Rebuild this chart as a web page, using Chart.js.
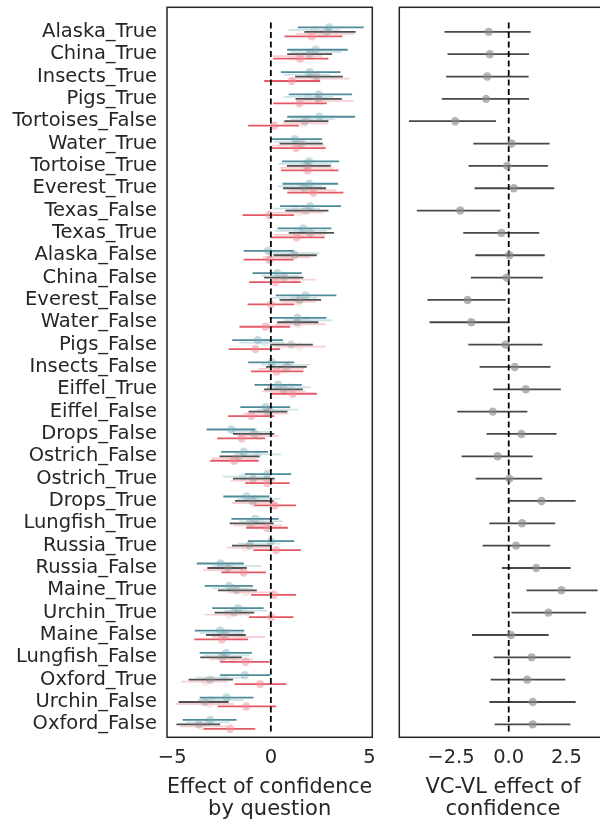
<!DOCTYPE html>
<html><head><meta charset="utf-8">
<script src="https://cdn.jsdelivr.net/npm/chart.js@4.4.1/dist/chart.umd.min.js"></script>
<style>
html,body{margin:0;padding:0;background:#fff;overflow:hidden;width:600px;height:819px;position:relative;}
.wrap{position:absolute;top:0;height:819px;overflow:visible;}
canvas{display:block;}
</style></head><body>
<div class="wrap" style="left:0;width:380px;"><canvas id="c1" width="380" height="819"></canvas></div>
<div class="wrap" style="left:385px;width:226px;"><canvas id="c2" width="226" height="819"></canvas></div>
<script>
const categories = ["Alaska_True","China_True","Insects_True","Pigs_True","Tortoises_False","Water_True","Tortoise_True","Everest_True","Texas_False","Texas_True","Alaska_False","China_False","Everest_False","Water_False","Pigs_False","Insects_False","Eiffel_True","Eiffel_False","Drops_False","Ostrich_False","Ostrich_True","Drops_True","Lungfish_True","Russia_True","Russia_False","Maine_True","Urchin_True","Maine_False","Lungfish_False","Oxford_True","Urchin_False","Oxford_False"];

const tealMean = [2.95,2.28,1.97,2.43,2.46,1.22,1.94,1.94,1.99,1.64,-0.15,0.32,1.76,1.35,-0.66,0.05,0.37,-0.27,-2.01,-1.37,-0.19,-1.23,-0.79,0.0,-2.55,-2.11,-1.67,-2.57,-2.26,-1.32,-2.24,-3.07];
const tealLo   = [1.37,0.83,0.51,0.91,0.83,0.0,0.57,0.59,0.47,0.34,-1.38,-0.93,0.25,-0.07,-1.96,-1.15,-0.83,-1.55,-3.26,-2.53,-1.32,-2.41,-2.0,-1.16,-3.76,-3.36,-2.97,-3.86,-3.61,-2.57,-3.61,-4.47];
const tealHi   = [4.71,3.9,3.53,4.12,4.27,2.6,3.46,3.41,3.56,3.07,1.15,1.57,3.32,2.82,0.61,1.18,1.57,0.98,-0.79,-0.14,1.03,-0.07,0.39,1.18,-1.37,-0.91,-0.37,-1.35,-0.96,-0.03,-0.88,-1.74];

const paleTealMean = [2.2,2.0,1.9,1.9,1.9,1.3,1.7,1.6,1.23,1.4,1.15,0.64,1.23,1.8,-0.3,0.9,1.0,-0.03,-0.83,-0.66,-1.42,-0.8,-0.5,-1.05,-2.06,-1.9,-1.4,-2.3,-2.4,-2.4,-3.0,-3.2];
const paleTealLo   = [0.9,1.0,0.65,0.64,1.0,0.15,0.4,0.35,0.1,0.2,-0.2,-0.5,0.05,0.64,-1.6,-0.5,-0.2,-0.7,-2.0,-1.55,-2.43,-1.7,-1.6,-1.7,-3.0,-3.0,-2.4,-3.6,-3.4,-3.8,-3.7,-4.3];
const paleTealHi   = [3.5,3.6,3.0,3.17,3.26,2.5,3.1,2.6,2.5,2.85,2.46,1.5,2.35,3.12,0.7,2.0,2.0,1.4,0.0,0.51,-0.03,0.5,0.6,0.5,-0.5,-0.9,-0.2,-1.4,-1.1,-1.4,-1.4,-2.1];

const grayMean = [2.85,1.96,2.33,2.4,1.74,1.57,1.82,1.69,1.77,1.99,1.2,0.68,1.45,1.32,1.03,0.81,0.64,-0.17,-0.84,-1.64,-0.91,-0.91,-1.05,-1.08,-2.18,-1.74,-1.86,-2.31,-2.48,-3.07,-3.36,-3.66];
const grayLo   = [1.7,0.83,1.23,1.25,0.68,0.44,0.81,0.62,0.74,0.91,0.14,-0.34,0.44,0.32,-0.03,-0.24,-0.34,-1.13,-1.92,-2.6,-1.92,-1.82,-2.09,-1.97,-3.22,-2.68,-2.85,-3.29,-3.58,-4.17,-4.68,-4.79];
const grayHi   = [4.3,3.1,3.65,3.6,2.92,2.63,3.04,2.8,2.92,3.2,2.33,1.65,2.55,2.41,2.13,1.82,1.62,0.84,0.17,-0.57,0.2,0.14,0.14,-0.03,-1.22,-0.71,-0.84,-1.27,-1.47,-1.92,-2.14,-2.57];

const palePinkMean = [2.6,1.4,2.2,2.5,1.65,1.4,1.8,2.1,1.45,1.5,0.8,1.2,1.4,1.4,1.45,0.6,0.7,-0.2,-0.6,-1.9,-0.9,-0.9,-0.7,-1.3,-2.3,-1.3,-2.14,-1.55,-1.9,-3.32,-3.1,-3.5];
const palePinkLo   = [1.25,0.1,0.98,1.3,0.6,0.05,0.45,0.9,0.1,0.15,-0.4,0.13,0.5,0.22,0.22,-0.6,-0.45,-1.4,-1.7,-2.98,-2.05,-1.98,-1.9,-2.24,-3.41,-2.2,-3.36,-2.99,-3.1,-4.54,-4.85,-4.6];
const palePinkHi   = [4.25,2.6,4.02,4.2,2.9,2.75,3.2,3.3,2.7,2.75,2.0,2.27,2.3,2.78,2.78,1.7,1.75,0.9,0.4,-0.71,0.22,0.3,0.56,-0.03,-1.39,0.1,-1.05,-0.29,-0.9,-2.2,-1.89,-2.2];

const redMean = [2.07,1.49,1.06,1.45,0.17,1.28,1.87,2.16,-0.08,1.3,-0.08,0.24,0.0,-0.27,-0.78,0.29,1.11,-1.0,-1.47,-1.86,-0.19,0.19,-0.2,0.27,-1.38,0.15,0.02,-2.48,-1.28,-0.54,-1.25,-2.06];
const redLo   = [0.69,0.12,-0.34,0.12,-1.15,-0.08,0.52,0.83,-1.43,0.0,-1.38,-1.1,-1.18,-1.59,-2.13,-1.01,0.0,-2.16,-2.72,-3.07,-1.3,-0.84,-1.25,-0.89,-2.51,-1.0,-1.11,-3.88,-2.57,-1.84,-2.7,-3.41];
const redHi   = [3.63,2.92,2.5,2.84,1.42,2.78,3.43,3.68,1.18,2.73,1.15,1.52,1.18,0.98,0.47,1.65,2.33,0.17,-0.29,-0.62,0.95,1.27,0.86,1.52,-0.25,1.28,1.15,-1.16,-0.07,0.78,0.27,-0.79];

const diffMean = [-0.87,-0.82,-0.93,-0.98,-2.32,0.12,-0.07,0.22,-2.1,-0.32,0.03,-0.09,-1.78,-1.62,-0.14,0.26,0.74,-0.69,0.55,-0.48,0.03,1.42,0.58,0.32,1.19,2.28,1.72,0.1,0.99,0.8,1.04,1.04];
const diffLo   = [-2.78,-2.65,-2.71,-2.9,-4.32,-1.53,-1.74,-1.48,-3.98,-1.97,-1.45,-1.64,-3.52,-3.43,-1.75,-1.26,-0.67,-2.23,-0.96,-2.04,-1.43,0.02,-0.84,-1.13,-0.3,0.77,0.12,-1.59,-0.65,-0.78,-0.84,-0.61];
const diffHi   = [0.95,0.88,0.86,0.88,-0.55,1.77,1.7,1.97,-0.36,1.32,1.56,1.48,-0.13,0.02,1.46,1.81,2.26,0.81,2.07,1.04,1.45,2.9,2.01,1.8,2.68,3.85,3.35,1.73,2.68,2.45,2.9,2.67];

const leftTicks = [-5, 0, 5];
const rightTicks = [-2.5, 0, 2.5];

const FONT = "'DejaVu Sans', sans-serif";
const TXT = '#262626';

function errData(lo, hi, off) {
  const d = [];
  for (let i = 0; i < lo.length; i++) {
    d.push({x: lo[i], y: i + off}, {x: hi[i], y: i + off}, {x: null, y: null});
  }
  return d;
}
function ptData(m, off) { return m.map((v, i) => ({x: v, y: i + off})); }

const frame = {
  id: 'frame',
  afterDatasetsDraw(chart) {
    const {ctx, chartArea: a} = chart;
    ctx.save();
    ctx.strokeStyle = '#262626';
    ctx.lineWidth = 1.5;
    ctx.strokeRect(a.left, a.top, a.right - a.left, a.bottom - a.top);
    ctx.restore();
  }
};

function zeroLine() {
  return {type: 'line', data: [{x: 0, y: -0.42}, {x: 0, y: 31.38}], showLine: true,
    borderColor: '#000', borderWidth: 1.8, borderDash: [6, 3.5], pointRadius: 0, fill: false};
}

const leftSeries = [
  {m: paleTealMean, lo: paleTealLo, hi: paleTealHi, off: -0.09, line: 'rgb(206,227,230)', pt: 'rgba(150,195,202,0.25)'},
  {m: palePinkMean, lo: palePinkLo, hi: palePinkHi, off: 0.09, line: 'rgb(248,208,212)', pt: 'rgba(240,170,178,0.25)'},
  {m: tealMean, lo: tealLo, hi: tealHi, off: -0.2, line: 'rgb(78,140,155)', pt: 'rgba(110,165,178,0.4)'},
  {m: grayMean, lo: grayLo, hi: grayHi, off: 0, line: 'rgb(80,80,80)', pt: 'rgba(140,140,140,0.35)'},
  {m: redMean, lo: redLo, hi: redHi, off: 0.2, line: 'rgb(228,88,100)', pt: 'rgba(240,140,150,0.5)'}
];

function buildDatasets(series) {
  const ds = [];
  series.forEach(s => {
    ds.push({type: 'line', data: errData(s.lo, s.hi, s.off), showLine: true, spanGaps: false,
      borderColor: s.line, borderWidth: 1.8, pointRadius: 0, fill: false});
    ds.push({type: 'scatter', data: ptData(s.m, s.off), showLine: false,
      pointRadius: 4.2, pointBackgroundColor: s.pt, pointBorderWidth: 0, borderColor: 'transparent'});
  });
  ds.push(zeroLine());
  ds.forEach((d, i) => d.order = -i);
  return ds;
}

function yScale(show) {
  return {
    type: 'linear', reverse: true, min: -1.1, max: 31.58, display: show,
    afterBuildTicks: s => { s.ticks = categories.map((_, i) => ({value: i})); },
    afterFit: s => { s.width = show ? 167 : 0; s.paddingTop = 0; s.paddingBottom = 0; },
    grid: {display: false, drawTicks: false}, border: {display: false},
    ticks: {autoSkip: false, padding: 10, color: TXT, font: {family: FONT, size: 19.5},
      callback: v => categories[v]}
  };
}

function xScale(min, max, ticks, fmt, title) {
  return {
    type: 'linear', min: min, max: max,
    afterBuildTicks: s => { s.ticks = ticks.map(v => ({value: v})); },
    afterFit: s => { s.height = 81.7; s.paddingLeft = 0; s.paddingRight = 0; },
    grid: {display: false, drawTicks: false}, border: {display: false},
    ticks: {autoSkip: false, maxRotation: 0, padding: 9, color: TXT, font: {family: FONT, size: 19.5},
      callback: fmt},
    title: {display: true, text: title, color: TXT, font: {family: FONT, size: 21, lineHeight: 1.05},
      padding: {top: 2, bottom: -2}}
  };
}

const common = {
  responsive: false, animation: false, devicePixelRatio: 1,
  plugins: {legend: {display: false}, tooltip: {enabled: false}}
};

new Chart(document.getElementById('c1'), {
  type: 'scatter',
  data: {datasets: buildDatasets(leftSeries)},
  options: Object.assign({}, common, {
    layout: {padding: {left: 0, top: 7.3, right: 7.7, bottom: 0}},
    scales: {
      x: xScale(-5.266, 5.144, leftTicks, v => String(v).replace('-', '\u2212'), ['Effect of confidence', 'by question']),
      y: yScale(true)
    }
  }),
  plugins: [frame]
});

const rightDatasets = [
  {type: 'line', data: errData(diffLo, diffHi, 0), showLine: true, spanGaps: false,
    borderColor: 'rgb(72,72,72)', borderWidth: 1.8, pointRadius: 0, fill: false},
  zeroLine(),
  {type: 'scatter', data: ptData(diffMean, 0), showLine: false,
    pointRadius: 4.2, pointBackgroundColor: 'rgba(140,140,140,0.65)', pointBorderWidth: 0, borderColor: 'transparent'}
];
rightDatasets.forEach((d, i) => d.order = -i);

new Chart(document.getElementById('c2'), {
  type: 'scatter',
  data: {datasets: rightDatasets},
  options: Object.assign({}, common, {
    layout: {padding: {left: 14.3, top: 7.3, right: 0, bottom: 0}},
    scales: {
      x: xScale(-4.739, 4.248, rightTicks, v => Number(v).toFixed(1).replace('-', '\u2212'), ['VC-VL effect of', 'confidence']),
      y: yScale(false)
    }
  }),
  plugins: [frame]
});
</script>
</body></html>
